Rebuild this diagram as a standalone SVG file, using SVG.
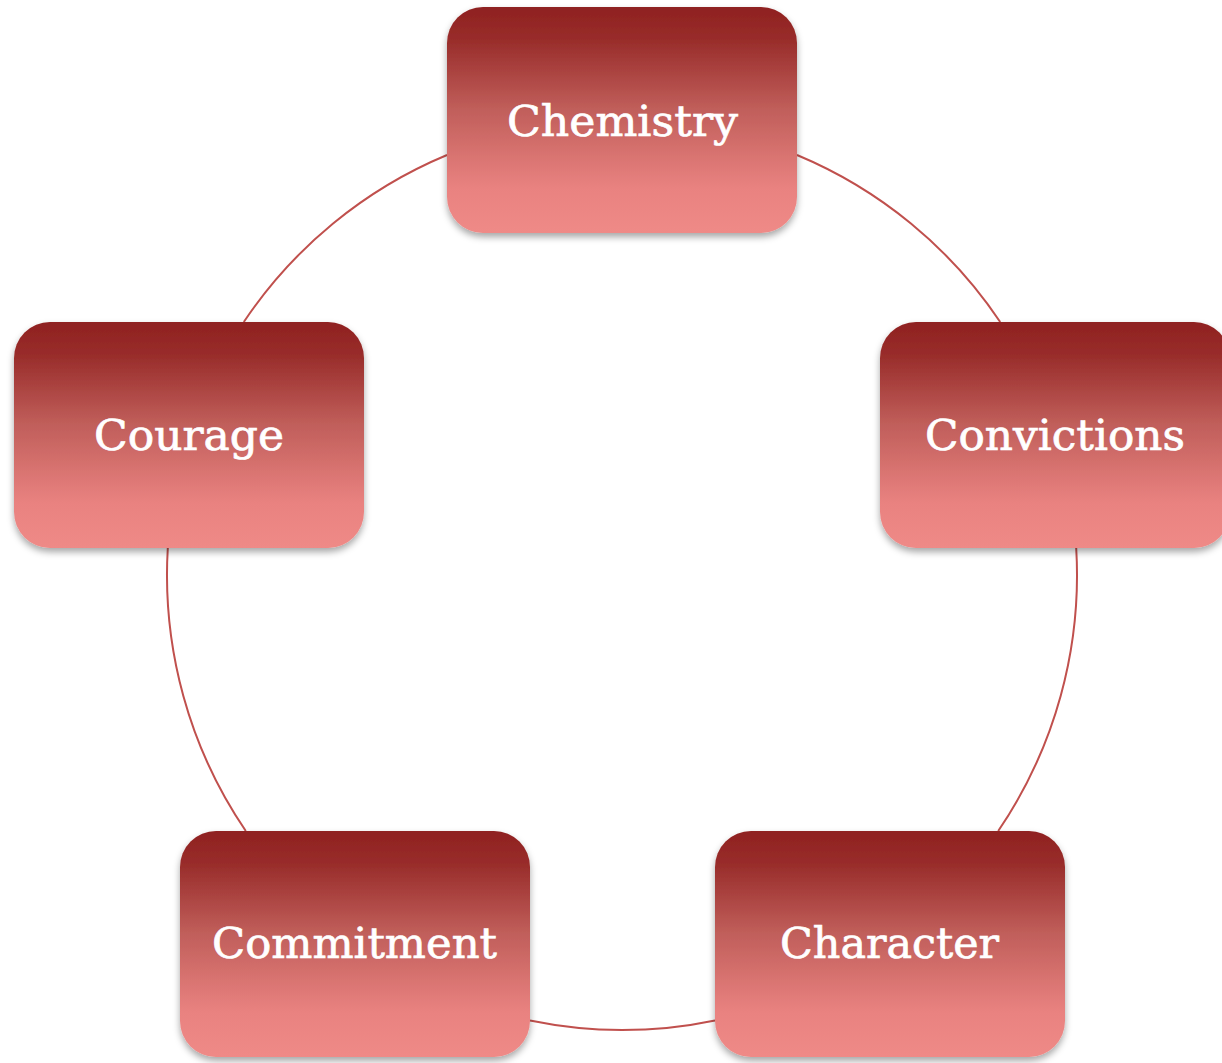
<svg xmlns="http://www.w3.org/2000/svg" width="1222" height="1063" viewBox="0 0 1222 1063">
<defs>
<linearGradient id="g" x1="0" y1="0" x2="0" y2="1">
<stop offset="0" stop-color="#8f2120"/>
<stop offset="0.15" stop-color="#992d2b"/>
<stop offset="0.45" stop-color="#c05e5a"/>
<stop offset="0.8" stop-color="#e98280"/>
<stop offset="1" stop-color="#ef8a87"/>
</linearGradient>
<filter id="sh" x="-10%" y="-10%" width="120%" height="125%">
<feDropShadow dx="0" dy="4" stdDeviation="3.5" flood-color="#000" flood-opacity="0.35"/>
</filter>
</defs>
<style>
.box{fill:url(#g);filter:url(#sh)}
.lbl{fill:#fff;stroke:#fff;stroke-width:0.7;font-family:"DejaVu Serif","Liberation Serif",serif;font-size:43px;text-anchor:middle}
.arc{fill:none;stroke:#c0504d;stroke-width:2}
</style>
<rect width="1222" height="1063" fill="#fff"/>
<g id="connectors">
<path class="arc" d="M797,155 A455,455 0 0 1 1000.2,322"/>
<path class="arc" d="M1076.2,548 A455,455 0 0 1 998.2,831"/>
<path class="arc" d="M715,1020.4 A455,455 0 0 1 530,1020.6"/>
<path class="arc" d="M245.8,831 A455,455 0 0 1 167.8,548"/>
<path class="arc" d="M243.8,322 A455,455 0 0 1 447,155"/>
</g>
<g id="chemistry">
<rect class="box" x="447" y="7" width="350" height="226" rx="36"/>
<text class="lbl" x="622.5" y="136" textLength="231" lengthAdjust="spacingAndGlyphs">Chemistry</text>
</g>
<g id="convictions">
<rect class="box" x="880" y="322" width="350" height="226" rx="36"/>
<text class="lbl" x="1055" y="450" textLength="260" lengthAdjust="spacingAndGlyphs">Convictions</text>
</g>
<g id="character">
<rect class="box" x="715" y="831" width="350" height="226" rx="36"/>
<text class="lbl" x="889.5" y="958" textLength="219" lengthAdjust="spacingAndGlyphs">Character</text>
</g>
<g id="commitment">
<rect class="box" x="180" y="831" width="350" height="226" rx="36"/>
<text class="lbl" x="354.5" y="958" textLength="285" lengthAdjust="spacingAndGlyphs">Commitment</text>
</g>
<g id="courage">
<rect class="box" x="14" y="322" width="350" height="226" rx="36"/>
<text class="lbl" x="189" y="450" textLength="190" lengthAdjust="spacingAndGlyphs">Courage</text>
</g>
</svg>
